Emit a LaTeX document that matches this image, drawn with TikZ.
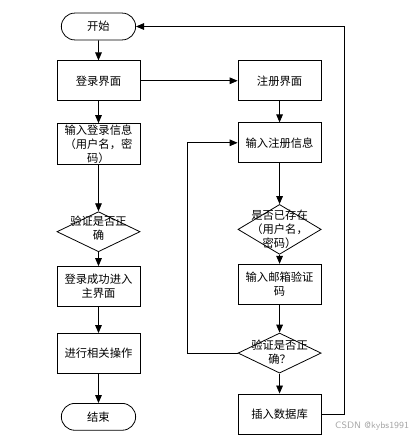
\documentclass[tikz,border=0pt]{standalone}
\usepackage{fontspec}
\setmainfont{Noto Sans CJK SC}
\usepackage{tikz}
\usetikzlibrary{positioning,arrows.meta,shapes.geometric,shapes.misc}

\begin{document}
\begin{tikzpicture}[font=\fontsize{8.5pt}{10.5pt}\selectfont,
      line width=0.6pt,
      box/.style={draw,minimum width=2.2cm,minimum height=1.06cm,align=center,inner sep=1pt},
      term/.style={draw,rounded rectangle,minimum width=2.2cm,minimum height=0.71cm,align=center},
      decision/.style={draw,diamond,minimum width=2.2cm,minimum height=1.06cm,inner sep=0pt},
      dtext/.style={align=center,inner sep=0pt},
      arr/.style={-{Triangle[length=6pt,width=5pt]}}
    ]
    \useasboundingbox (-2.606,0.701) rectangle (8.401,-10.967);

    % left column: login
    \node[term] (start) at (0,0) {开始};
    \node[box,below=0.53cm of start] (login) {登录界面};
    \node[box,below=0.58cm of login] (loginput) {输入登录信息\\（用户名，密\\码）};
    \node[decision,below=1.22cm of loginput,label={[dtext,yshift=3pt]center:验证是否正\\确}] (check1) {};
    \node[box,below=0.37cm of check1] (success) {登录成功进入\\主界面};
    \node[box,below=0.69cm of success] (operate) {进行相关操作};
    \node[term,below=0.77cm of operate] (finish) {结束};

    % right column: register
    \node[box,right=2.57cm of login] (reg) {注册界面};
    \node[box,below=0.56cm of reg] (reginput) {输入注册信息};
    \node[decision,below=1.08cm of reginput,minimum height=1.32cm,label={[dtext]center:是否已存在\\（用户名，\\密码）}] (exist) {};
    \node[box,below=0.24cm of exist] (email) {输入邮箱验证\\码};
    \node[decision,below=0.74cm of email,label={[dtext,yshift=1pt]center:验证是否正\\确？}] (check2) {};
    \node[box,below=0.53cm of check2] (insert) {插入数据库};

    \node[text=black!35,font=\sffamily\fontsize{7pt}{8pt}\selectfont] (wmark) at (7.24,-10.57) {CSDN @kybs1991};

    \draw[arr] (start) -- (login);
    \draw[arr] (login) -- (loginput);
    \draw[arr] (loginput) -- (check1);
    \draw[arr] (check1) -- (success);
    \draw[arr] (success) -- (operate);
    \draw[arr] (operate) -- (finish);
    \draw[arr] (login) -- (reg);
    \draw[arr] (reg) -- (reginput);
    \draw[arr] (reginput) -- (exist);
    \draw[arr] (exist) -- (email);
    \draw[arr] (email) -- (check2);
    \draw[arr] (check2) -- (insert);
    % loops back
    \draw[arr] (check2.west) -- ++(-1.32,0) |- (reginput.west);
    \draw[arr] (insert.east) -- ++(0.61,0) |- (start.east);
  \end{tikzpicture}
\end{document}
